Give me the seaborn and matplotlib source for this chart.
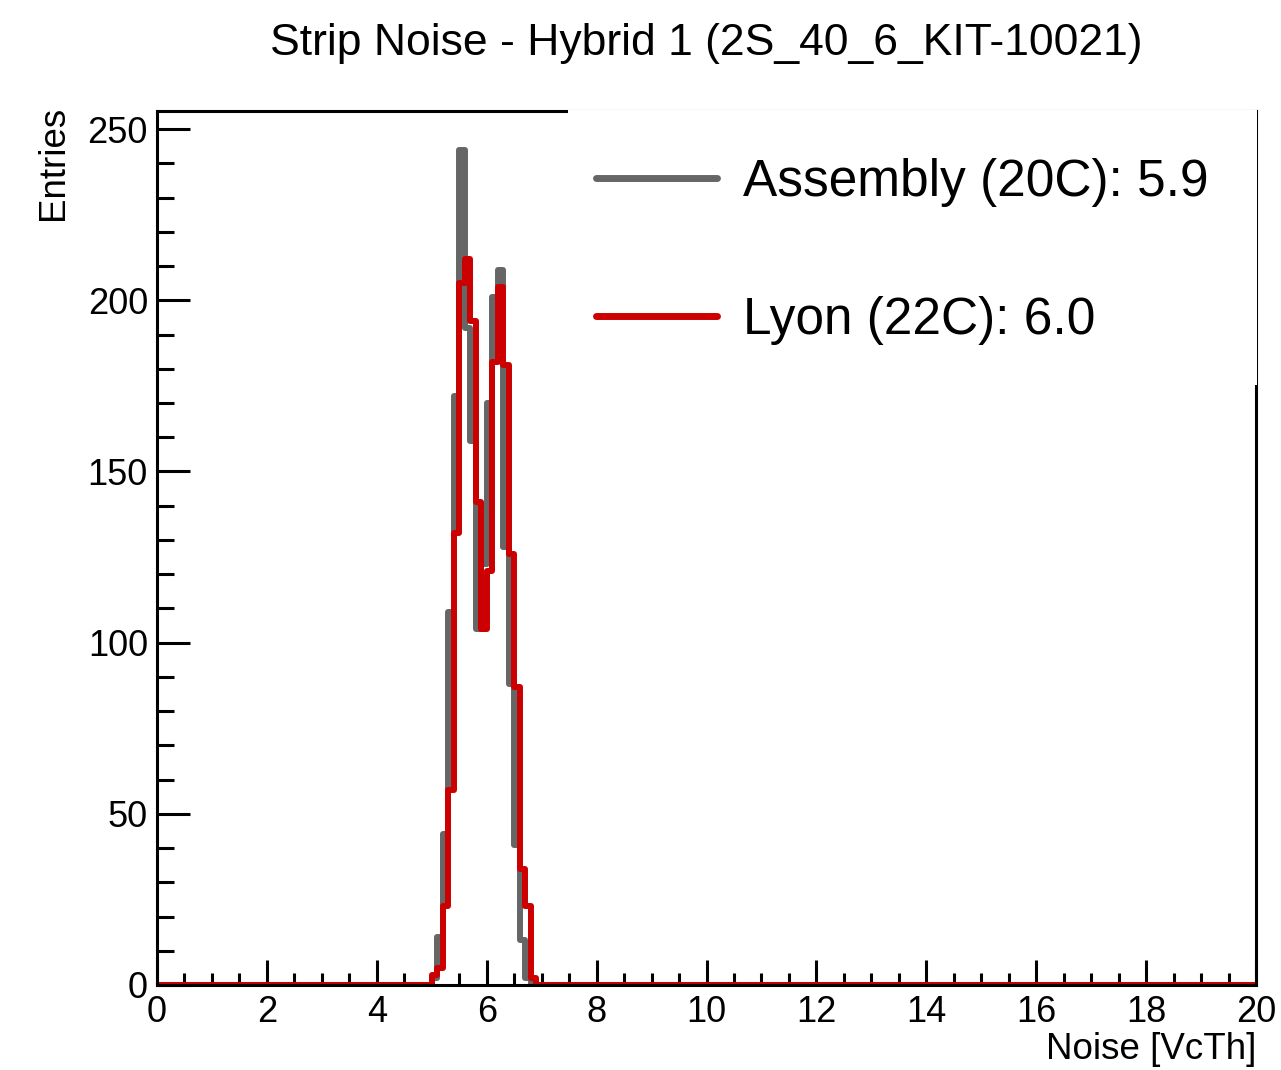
import matplotlib
matplotlib.use("Agg")
import matplotlib.pyplot as plt
import matplotlib.patches as mpatches
import numpy as np
import pandas as pd
import seaborn as sns

# histogram: 200 bins of 0.1 VcTh from 0 to 20, only non-empty bins listed
x_range = (0, 20)
n_bins = 200
first_bin = 5.0  # lower edge of first listed bin

assembly_counts = [2, 14, 44, 109, 172, 244, 192, 159, 104, 123,
                   170, 201, 209, 128, 88, 41, 13, 2]
lyon_counts = [3, 5, 23, 57, 132, 205, 212, 194, 141, 104,
               121, 182, 204, 181, 126, 87, 34, 23, 2]

labels = ["Assembly (20C): 5.9", "Lyon (22C): 6.0"]
colors = ["#666666", "#cc0000"]

bin_width = (x_range[1] - x_range[0]) / n_bins
centers = x_range[0] + (np.arange(n_bins) + 0.5) * bin_width
start = int(round((first_bin - x_range[0]) / bin_width))


def full_counts(vals):
    w = np.zeros(n_bins)
    w[start:start + len(vals)] = vals
    return w


df = pd.concat([
    pd.DataFrame({"noise": centers, "count": full_counts(assembly_counts), "run": labels[0]}),
    pd.DataFrame({"noise": centers, "count": full_counts(lyon_counts), "run": labels[1]}),
])

sns.set_style("ticks")
plt.rcParams["font.family"] = ["Liberation Sans", "DejaVu Sans"]
plt.rcParams["text.color"] = "black"
plt.rcParams["axes.labelcolor"] = "black"

fig = plt.figure(figsize=(12.81, 10.70), dpi=100)
ax = fig.add_axes([157 / 1281, 1 - 985 / 1070, 1099 / 1281, 874 / 1070])

for lab, col in zip(labels, colors):
    sub = df[df["run"] == lab]
    sns.histplot(data=sub, x="noise", weights="count", bins=n_bins,
                 binrange=x_range, element="step", fill=False, color=col,
                 linewidth=4.3, ax=ax, label=lab)

ax.set_xlim(0, 20)
ax.set_ylim(0, 255.3)
ax.set_xticks(np.arange(0, 21, 2))
ax.set_xticks(np.arange(0, 20.01, 0.5), minor=True)
ax.set_yticks(np.arange(0, 251, 50))
ax.set_yticks(np.arange(0, 251, 10), minor=True)
ax.tick_params(axis="both", which="both", direction="in", width=2.2,
               labelsize=26, colors="black")
ax.tick_params(axis="x", which="major", length=18, pad=7)
ax.tick_params(axis="x", which="minor", length=9)
ax.tick_params(axis="y", which="major", length=24, pad=6.5)
ax.tick_params(axis="y", which="minor", length=12)
for s in ax.spines.values():
    s.set_linewidth(2.2)
    s.set_color("black")

ax.set_xlabel("Noise [VcTh]", fontsize=26.5, loc="right")
ax.xaxis.set_label_coords(1.0, -0.054)
ax.set_ylabel("Entries", fontsize=26.5, loc="top")
ax.yaxis.set_label_coords(-0.078, 1.006)
ax.set_title("Strip Noise - Hybrid 1 (2S_40_6_KIT-10021)", fontsize=32,
             pad=40, color="black")

# white legend box drawn over the frame, ROOT style
box = mpatches.Rectangle((0.374, 0.6865), 1.0005 - 0.374, 1.0006 - 0.6865,
                         transform=ax.transAxes, facecolor="white",
                         edgecolor="none", zorder=4, clip_on=False)
ax.add_patch(box)
leg = ax.legend(loc="upper left", bbox_to_anchor=(0.3995, 0.9466),
                frameon=False, fontsize=37, handlelength=2.35,
                handletextpad=0.5, labelspacing=1.73, borderpad=0,
                borderaxespad=0)
for t in leg.get_texts():
    t.set_color("black")
for h in leg.get_lines():
    h.set_linewidth(5)
leg.set_zorder(5)

fig.savefig("out.png", dpi=100)
